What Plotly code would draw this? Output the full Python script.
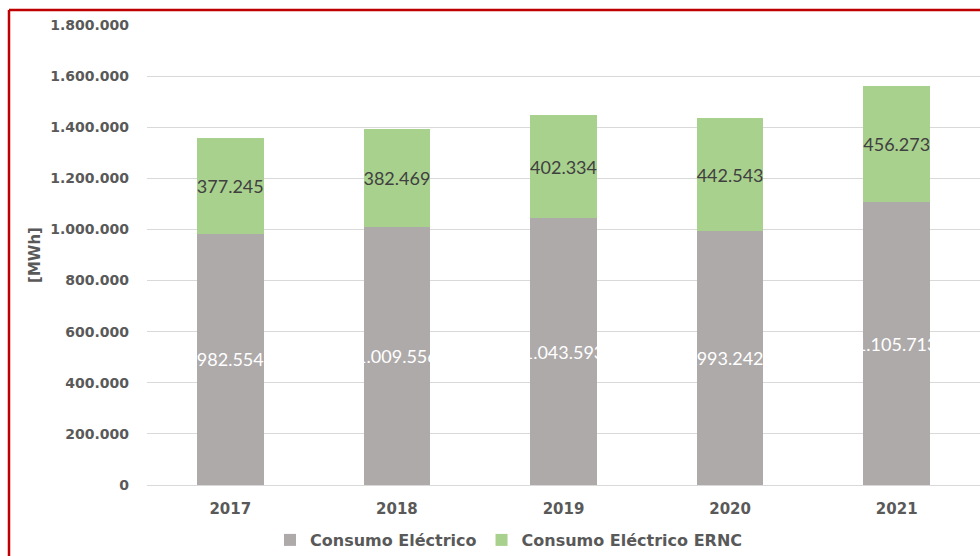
import plotly.graph_objects as go

years = ["2017", "2018", "2019", "2020", "2021"]
consumo = [982554, 1009556, 1043593, 993242, 1105713]
consumo_ernc = [377245, 382469, 402334, 442543, 456273]
y_ticks = [0, 200000, 400000, 600000, 800000, 1000000, 1200000, 1400000, 1600000, 1800000]

LABEL_FONT = "Lato"
AXIS_FONT = "DejaVu Sans"
GREY_TXT = "#595959"

fig = go.Figure()
fig.add_trace(go.Bar(
    x=years, y=consumo, name="Consumo Eléctrico",
    marker=dict(color="#AEAAAA", line=dict(width=0)),
    texttemplate="%{y:,.0f}", textposition="inside", insidetextanchor="middle",
    textfont=dict(color="#FFFFFF", size=18, family=LABEL_FONT), textangle=0,
))
fig.add_trace(go.Bar(
    x=years, y=consumo_ernc, name="Consumo Eléctrico ERNC",
    marker=dict(color="#A9D18E", line=dict(width=0)),
    texttemplate="%{y:,.0f}", textposition="inside", insidetextanchor="middle",
    textfont=dict(color="#404040", size=18, family=LABEL_FONT), textangle=0,
))

W, H = 980, 556
L, R, T, B = 147, 0, 25, 71
pw = W - L - R
ph = H - T - B
bx = (9.0 - L) / pw
by = (H - B - 10) / ph

fig.update_layout(
    width=W, height=H,
    margin=dict(l=L, r=R, t=T, b=B),
    barmode="stack", bargap=0.6,
    separators=",.",
    plot_bgcolor="white", paper_bgcolor="white",
    font=dict(family=AXIS_FONT, color=GREY_TXT, size=15),
    uniformtext=dict(minsize=18, mode="show"),
    showlegend=True,
    legend=dict(orientation="h", x=509 / W, xanchor="center", xref="container",
                y=16 / H, yanchor="middle", yref="container",
                font=dict(size=16, family=AXIS_FONT, color=GREY_TXT, weight="bold"),
                traceorder="normal", itemwidth=30),
    xaxis=dict(showgrid=False, showline=True, linecolor="#D9D9D9", linewidth=1,
               tickfont=dict(size=15, family=AXIS_FONT, color=GREY_TXT, weight="bold"),
               ticks="", ticklabelstandoff=10),
    yaxis=dict(range=[0, 1800000], tickvals=y_ticks, tickformat=",.0f",
               showgrid=True, gridcolor="#D9D9D9", gridwidth=1, zeroline=False,
               tickfont=dict(size=14, family=AXIS_FONT, color=GREY_TXT, weight="bold"),
               ticklabelstandoff=17,
               title=dict(text="[MWh]", font=dict(size=15, family=AXIS_FONT, color=GREY_TXT, weight="bold"),
                          standoff=5)),
    shapes=[
        dict(type="line", xref="paper", yref="paper", x0=bx, x1=bx, y0=-0.3, y1=by,
             line=dict(color="#C00000", width=2.5)),
        dict(type="line", xref="paper", yref="paper", x0=bx, x1=1.2, y0=by, y1=by,
             line=dict(color="#C00000", width=2.5)),
    ],
)

fig.write_html("out.html",
               config={"displayModeBar": False},
               post_script="document.body.style.margin='0';document.body.style.overflow='hidden';")
